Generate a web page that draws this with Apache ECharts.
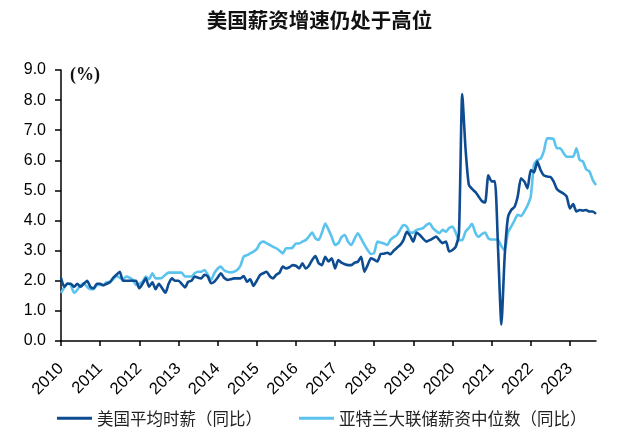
<!DOCTYPE html>
<html>
<head>
<meta charset="utf-8">
<script src="https://cdn.jsdelivr.net/npm/echarts@6/dist/echarts.min.js"></script>
<style>
  html, body { margin: 0; padding: 0; background: #fff; }
  #chart { width: 639px; height: 433px; }
</style>
</head>
<body>
<div id="chart"></div>
<script>
// 年份（x轴标签）
var years = ['2010', '2011', '2012', '2013', '2014', '2015', '2016',
  '2017', '2018', '2019', '2020', '2021', '2022', '2023'];
var lastMonth = 9; // 数据截止到 2023-09

// 美国平均时薪（同比），月度
var aheYoY = [
  2.1, 1.8, 1.9, 1.9, 1.8, 1.9, 1.8, 1.9, 2.0, 1.8, 1.75, 1.9,
  1.9, 1.85, 1.9, 1.95, 2.1, 2.2, 2.3, 2.0, 2.0, 2.0, 2.0, 2.0,
  1.75, 1.9, 2.08, 1.8, 1.95, 1.72, 1.9, 1.75, 1.6, 1.9, 2.08, 2.0,
  2.0, 1.9, 1.78, 1.97, 2.0, 2.14, 2.1, 2.08, 2.2, 2.14, 1.92, 1.97,
  2.1, 2.25, 2.1, 2.03, 2.05, 2.08, 2.08, 2.08, 2.16, 1.97, 2.05, 1.83,
  2.0, 2.19, 2.25, 2.3, 2.15, 2.08, 2.2, 2.27, 2.47, 2.41, 2.45, 2.52,
  2.5, 2.41, 2.58, 2.41, 2.5, 2.69, 2.82, 2.58, 2.52, 2.8, 2.64, 2.75,
  2.41, 2.69, 2.6, 2.55, 2.52, 2.52, 2.6, 2.63, 2.8, 2.3, 2.52, 2.75,
  2.7, 2.64, 2.89, 2.9, 2.93, 2.88, 3.0, 3.1, 3.19, 3.36, 3.63, 3.5,
  3.3, 3.6, 3.52, 3.4, 3.3, 3.35, 3.41, 3.47, 3.35, 3.25, 3.3, 2.97,
  3.02, 3.13, 3.6, 8.2, 6.4, 5.2, 5.05, 4.95, 4.8, 4.65, 4.6, 5.5,
  5.3, 5.3, 3.0, 0.55, 2.8, 4.1, 4.35, 4.45, 4.8, 5.4, 5.3, 5.07,
  5.68, 5.6, 5.96, 5.68, 5.5, 5.46, 5.45, 5.3, 5.05, 4.96, 4.9, 4.8,
  4.4, 4.55, 4.3, 4.35, 4.33, 4.35, 4.3, 4.3, 4.22
];

// 亚特兰大联储薪资中位数（同比），月度
var atlantaYoY = [
  1.6, 1.78, 1.92, 1.86, 1.6, 1.7, 1.85, 1.92, 1.8, 1.72, 1.72, 1.86,
  1.86, 1.86, 1.95, 1.97, 2.05, 2.16, 2.1, 2.05, 2.14, 2.1, 2.03, 1.86,
  1.9, 1.97, 2.14, 2.05, 2.25, 2.08, 2.08, 2.1, 2.2, 2.27, 2.27, 2.27,
  2.27, 2.27, 2.14, 2.14, 2.14, 2.25, 2.3, 2.3, 2.36, 2.2, 2.03, 2.25,
  2.4, 2.47, 2.35, 2.3, 2.28, 2.3, 2.36, 2.5, 2.8, 2.85, 2.91, 2.97,
  3.05, 3.24, 3.3, 3.25, 3.19, 3.13, 3.08, 3.0, 2.91, 3.08, 3.08, 3.1,
  3.24, 3.24, 3.3, 3.35, 3.47, 3.6, 3.41, 3.36, 3.6, 3.9, 3.7, 3.45,
  3.19, 3.25, 3.45, 3.52, 3.3, 3.19, 3.4, 3.58, 3.4, 3.2, 3.02, 2.89,
  2.93, 3.3, 3.27, 3.24, 3.19, 3.36, 3.45, 3.52, 3.7, 3.85, 3.8, 3.6,
  3.6, 3.69, 3.72, 3.75, 3.85, 3.91, 3.75, 3.65, 3.58, 3.69, 3.63, 3.75,
  3.8, 3.6, 3.35, 3.35, 3.63, 3.75, 3.89, 3.6, 3.46, 3.55, 3.6, 3.41,
  3.37, 3.37, 3.36, 3.15, 3.02, 3.6, 3.8, 4.0, 4.19, 4.15, 4.3, 4.5,
  4.8, 5.85, 6.01, 6.05, 6.3, 6.73, 6.73, 6.7, 6.4, 6.4, 6.25, 6.12,
  6.12, 6.12, 6.4, 6.01, 5.96, 5.7, 5.63, 5.35, 5.18
];

// 月度类目
var months = [];
years.forEach(function (y, yi) {
  var n = yi === years.length - 1 ? lastMonth : 12;
  for (var m = 1; m <= n; m++) {
    months.push(y + '-' + (m < 10 ? '0' + m : m));
  }
});

var chart = echarts.init(document.getElementById('chart'));

var yearStart = function (i) { return i % 12 === 0; };

chart.setOption({
  animation: false,
  title: {
    text: '美国薪资增速仍处于高位',
    left: 'center',
    top: 5,
    textStyle: {
      fontFamily: 'Noto Sans CJK SC',
      fontSize: 20.5,
      fontWeight: 'bold',
      color: '#111'
    }
  },
  legend: {
    left: 52,
    top: 405,
    icon: 'rect',
    itemWidth: 35,
    itemHeight: 3,
    itemGap: 37,
    textStyle: {
      fontFamily: 'Noto Sans CJK SC',
      fontSize: 16.5,
      color: '#222'
    },
    data: ['美国平均时薪（同比）', '亚特兰大联储薪资中位数（同比）']
  },
  graphic: [{
    type: 'text',
    left: 70,
    top: 66,
    style: {
      text: '(%)',
      font: 'bold 18px "Liberation Serif"',
      fill: '#111'
    }
  }],
  grid: { left: 61, right: 43, top: 70, bottom: 92 },
  xAxis: {
    type: 'category',
    data: months,
    boundaryGap: false,
    axisLine: { lineStyle: { color: '#000', width: 1.5 } },
    axisTick: {
      interval: yearStart,
      length: 5,
      lineStyle: { color: '#000', width: 1.5 }
    },
    axisLabel: {
      interval: yearStart,
      rotate: 45,
      margin: 25,
      fontFamily: 'Liberation Sans',
      fontSize: 16.5,
      color: '#000',
      formatter: function (v) { return v.slice(0, 4); }
    },
    splitLine: { show: false }
  },
  yAxis: {
    type: 'value',
    min: 0,
    max: 9,
    interval: 1,
    axisLine: { show: true, lineStyle: { color: '#000', width: 1.5 } },
    axisTick: { show: true, length: 6, lineStyle: { color: '#000', width: 1.5 } },
    axisLabel: {
      margin: 15,
      fontFamily: 'Liberation Sans',
      fontSize: 16,
      color: '#000',
      formatter: function (v) { return v.toFixed(1); }
    },
    splitLine: { show: false }
  },
  series: [
    {
      name: '美国平均时薪（同比）',
      type: 'line',
      data: aheYoY,
      symbol: 'none',
      smooth: 0.2,
      z: 3,
      lineStyle: { color: '#0d4c91', width: 2.6 },
      itemStyle: { color: '#0d4c91' }
    },
    {
      name: '亚特兰大联储薪资中位数（同比）',
      type: 'line',
      data: atlantaYoY,
      symbol: 'none',
      smooth: 0.2,
      z: 2,
      lineStyle: { color: '#5bc3ee', width: 2.6 },
      itemStyle: { color: '#5bc3ee' }
    }
  ]
});
</script>
</body>
</html>
